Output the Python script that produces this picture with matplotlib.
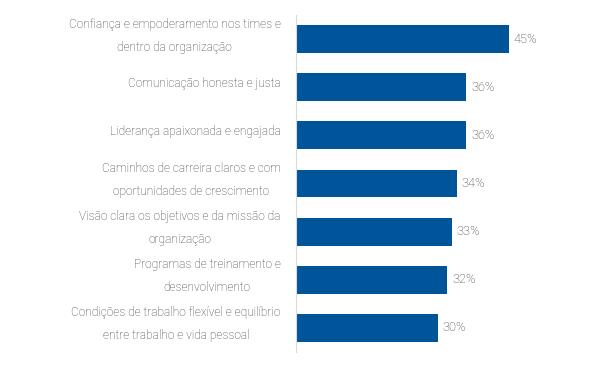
import matplotlib.pyplot as plt
import matplotlib.transforms as mtransforms

categorias = [
    "Confiança e empoderamento nos times e\ndentro da organização",
    "Comunicação honesta e justa",
    "Liderança apaixonada e engajada",
    "Caminhos de carreira claros e com\noportunidades de crescimento",
    "Visão clara os objetivos e da missão da\norganização",
    "Programas de treinamento e\ndesenvolvimento",
    "Condições de trabalho flexível e equilíbrio\nentre trabalho e vida pessoal",
]
valores = [45, 36, 36, 34, 33, 32, 30]

azul = "#00559A"
cinza = "#3a3a3a"

plt.rcParams['font.family'] = ['Roboto', 'DejaVu Sans']

fig = plt.figure(figsize=(5.91, 3.69), dpi=100)
ax = fig.add_axes([296 / 591, (369 - 352) / 369, 295 / 591, 337 / 369])

pos = list(range(len(categorias)))
ax.barh(pos, valores, height=0.58, color=azul)
for p, v in zip(pos, valores):
    ax.text(v + 1.0, p, f"{v}%", va='center', ha='left', fontsize=9.2,
            color=cinza, fontweight='light')

ax.set_ylim(len(categorias) - 0.5, -0.5)
ax.set_xlim(0, 295 / 4.73)
ax.set_yticks(pos)
ax.set_yticklabels(categorias, fontsize=8.6, color=cinza, fontweight='light',
                   multialignment='center', linespacing=2.0)
ax.tick_params(axis='y', length=0, pad=11)
desloc = mtransforms.ScaledTranslation(0, 2.5 / 72, fig.dpi_scale_trans)
for lbl in ax.get_yticklabels():
    lbl.set_verticalalignment('center')
    lbl.set_transform(lbl.get_transform() + desloc)
ax.set_xticks([])
for s in ['top', 'right', 'bottom']:
    ax.spines[s].set_visible(False)
ax.spines['left'].set_color('#d9d9d9')
ax.spines['left'].set_linewidth(0.8)

fig.savefig("out.png", dpi=100)
